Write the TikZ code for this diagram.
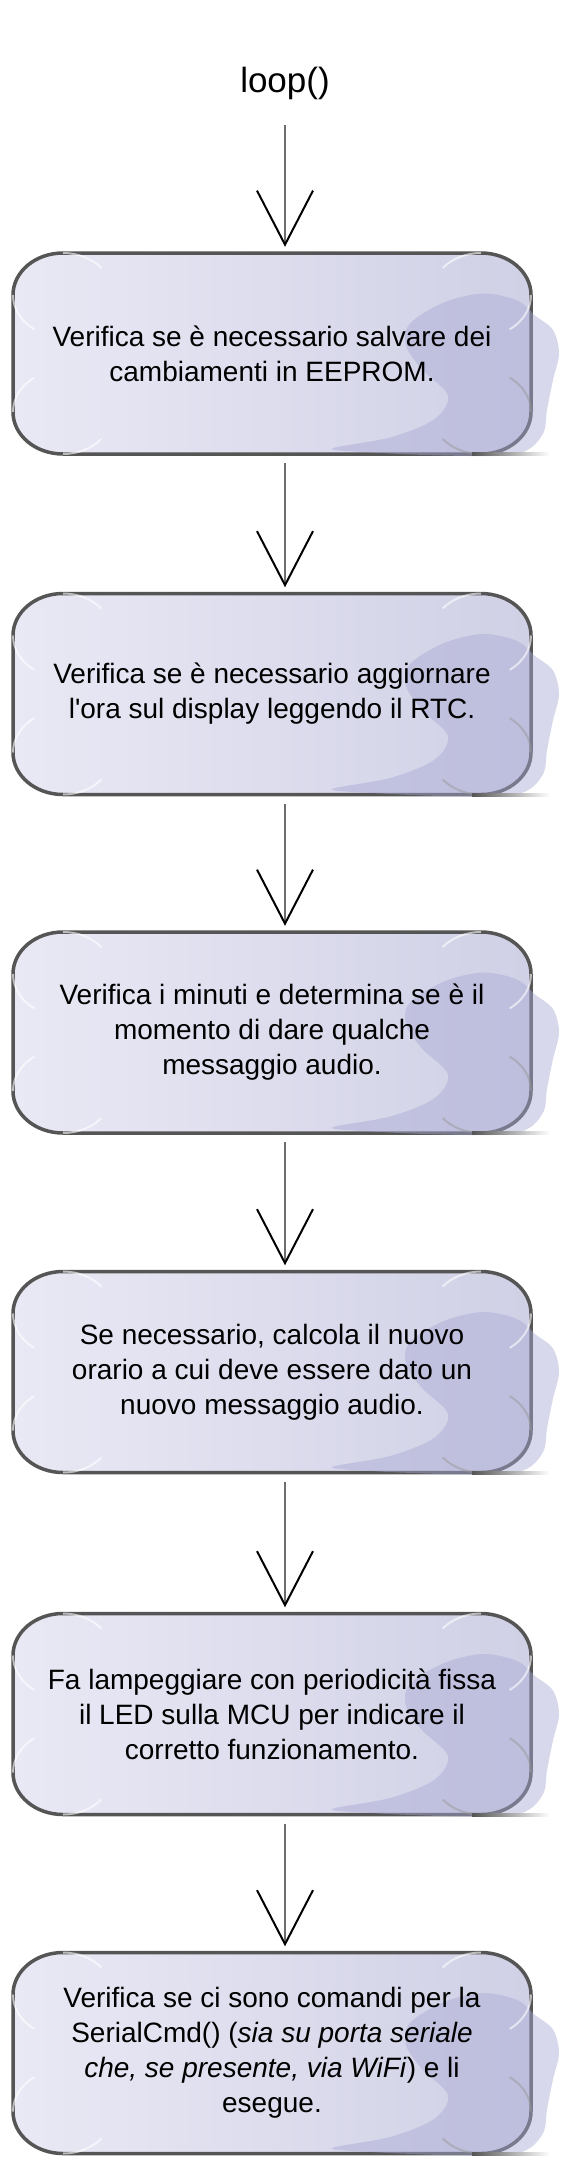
\documentclass[tikz,border=0pt]{standalone}
\usepackage{fontspec}
\newfontfamily\lib{Liberation Sans}
\usetikzlibrary{arrows.meta,calc,backgrounds}
\definecolor{boxL}{RGB}{233,233,245}
\definecolor{boxR}{RGB}{208,208,230}
\definecolor{blobc}{RGB}{168,168,212}
\definecolor{edgec}{RGB}{85,85,85}
\definecolor{shaftc}{RGB}{110,110,110}
\tikzset{
  stepbox/.style={minimum width=518pt, minimum height=201pt, inner sep=0pt, align=center,
    font=\lib\fontsize{28}{35}\selectfont},
  conn/.style={draw=shaftc, line width=2pt,
    -{Straight Barb[length=54pt,width=56pt,line width=2pt,color=black]}},
  hl/.style={white, line width=2pt, opacity=.6},
  hlg/.style={gray!80, line width=2pt, opacity=.5},
}
\newcommand\bonebox[1]{%
\begin{scope}[on background layer, shift={(#1.center)}, x=1pt, y=1pt]
  \shade[left color=boxL, right color=boxR]
    (-209,100.5) -- (209,100.5) arc[start angle=90,end angle=0,x radius=50,y radius=42]
    -- (259,-58.5) arc[start angle=0,end angle=-90,x radius=50,y radius=42]
    -- (-209,-100.5) arc[start angle=-90,end angle=-180,x radius=50,y radius=42]
    -- (-259,58.5) arc[start angle=180,end angle=90,x radius=50,y radius=42] -- cycle;
  \draw[edgec, line width=3.5pt]
    (-209,100.5) -- (209,100.5) arc[start angle=90,end angle=0,x radius=50,y radius=42]
    -- (259,-58.5) arc[start angle=0,end angle=-90,x radius=50,y radius=42]
    -- (-209,-100.5) arc[start angle=-90,end angle=-180,x radius=50,y radius=42]
    -- (-259,58.5) arc[start angle=180,end angle=90,x radius=50,y radius=42] -- cycle;
  \fill[blobc, opacity=.45] plot[smooth cycle, tension=.55] coordinates {
    (138,30) (172,51) (211,60) (245,53) (263,38) (281,23.5) (287,0)
    (281,-26.5) (275,-56.5) (272,-78) (258,-95) (233,-102) (170,-102) (100,-99)
    (60,-95) (118,-84) (162,-66) (176,-42) (150,-16) (134,8)};
  \draw[hl] (-259,58.5) arc[start angle=180,end angle=235,x radius=50,y radius=42];
  \draw[hl] (-209,100.5) arc[start angle=90,end angle=40,x radius=50,y radius=42];
  \draw[hl] (-259,-58.5) arc[start angle=180,end angle=125,x radius=50,y radius=42];
  \draw[hl] (-209,-100.5) arc[start angle=-90,end angle=-40,x radius=50,y radius=42];
  \draw[hl] (209,100.5) arc[start angle=90,end angle=140,x radius=50,y radius=42];
  \draw[hl] (259,58.5) arc[start angle=0,end angle=-55,x radius=50,y radius=42];
  \draw[hlg] (209,-100.5) arc[start angle=-90,end angle=-140,x radius=50,y radius=42];
  \draw[hlg] (259,-58.5) arc[start angle=0,end angle=55,x radius=50,y radius=42];
  \shade[left color=edgec, right color=white] (200,-102) rectangle (278,-99);
\end{scope}}
\begin{document}
\begin{tikzpicture}[x=1pt, y=-1pt]
  \useasboundingbox (0,0) rectangle (570,2168);
  \coordinate (ax) at (285,0);
  \node[font=\lib\fontsize{35}{40}\selectfont, inner sep=0pt] (loop) at (285,83) {loop()};
  \node[stepbox] (b1) at (272,353.5) {Verifica se è necessario salvare dei\\cambiamenti in EEPROM.};
  \node[stepbox] (b2) at (272,694) {Verifica se è necessario aggiornare\\l'ora sul display leggendo il RTC.};
  \node[stepbox] (b3) at (272,1032.5) {Verifica i minuti e determina se è il\\momento di dare qualche\\messaggio audio.};
  \node[stepbox] (b4) at (272,1372) {Se necessario, calcola il nuovo\\orario a cui deve essere dato un\\nuovo messaggio audio.};
  \node[stepbox] (b5) at (272,1714) {Fa lampeggiare con periodicità fissa\\il LED sulla MCU per indicare il\\corretto funzionamento.};
  \node[stepbox] (b6) at (272,2053) {Verifica se ci sono comandi per la\\SerialCmd() (\textit{sia su porta seriale}\\\textit{che, se presente, via WiFi}) e li\\esegue.};
  \bonebox{b1}\bonebox{b2}\bonebox{b3}\bonebox{b4}\bonebox{b5}\bonebox{b6}
  \draw[conn] ($(loop.center)+(0,42)$) -- ($(b1.north -| ax)+(0,-6)$);
  \draw[conn] ($(b1.south -| ax)+(0,9)$) -- ($(b2.north -| ax)+(0,-6)$);
  \draw[conn] ($(b2.south -| ax)+(0,9)$) -- ($(b3.north -| ax)+(0,-6)$);
  \draw[conn] ($(b3.south -| ax)+(0,9)$) -- ($(b4.north -| ax)+(0,-6)$);
  \draw[conn] ($(b4.south -| ax)+(0,9)$) -- ($(b5.north -| ax)+(0,-6)$);
  \draw[conn] ($(b5.south -| ax)+(0,9)$) -- ($(b6.north -| ax)+(0,-6)$);
\end{tikzpicture}
\end{document}
